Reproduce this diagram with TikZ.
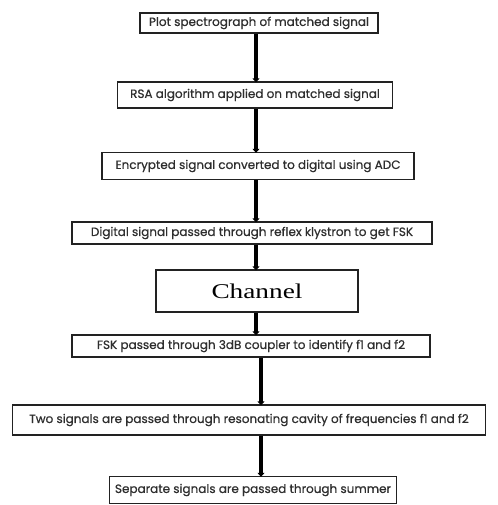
\documentclass[tikz,border=0pt]{standalone}
\usepackage{fontspec}
\setmainfont{Poppins}[FakeBold=0.6]
\newfontfamily\chfont{Liberation Serif}
\usetikzlibrary{arrows.meta}
\definecolor{boxtext}{HTML}{2E2E2E}
\definecolor{boxline}{HTML}{222222}
\tikzset{
  stepbox/.style={draw=boxline, line width=1.4pt, fill=white, text=boxtext,
    inner sep=0pt, font=\fontsize{12}{14}\selectfont, anchor=center},
  flow/.style={line width=3.4pt, draw=black,
    -{Triangle[width=7pt,length=4pt]}, shorten >=-1pt},
}
\begin{document}
\begin{tikzpicture}[x=1pt, y=-1pt]
\useasboundingbox (0,0) rectangle (497,505);

\node[stepbox, minimum width=238pt, minimum height=20pt] (b1) at (259,23)
  {Plot spectrograph of matched signal};
\node[stepbox, minimum width=275pt, minimum height=26pt] (b2) at (255,95)
  {RSA algorithm applied on matched signal};
\node[stepbox, minimum width=312pt, minimum height=27pt] (b3) at (258,166)
  {Encrypted signal converted to digital using ADC};
\node[stepbox, minimum width=360pt, minimum height=22pt] (b4) at (252,233)
  {Digital signal passed through reflex klystron to get FSK};
\node[stepbox, minimum width=202pt, minimum height=42pt, text=black,
      font=\chfont\fontsize{21}{24}\selectfont] (ch) at (257,291)
  {\scalebox{1.3}[1]{Channel}};
\node[stepbox, minimum width=358pt, minimum height=22pt] (b6) at (251,346)
  {FSK passed through 3dB coupler to identify f1 and f2};
\node[stepbox, minimum width=473pt, minimum height=30pt] (b7) at (249,420)
  {Two signals are passed through resonating cavity of frequencies f1 and f2};
\node[stepbox, minimum width=287pt, minimum height=27pt] (b8) at (253,490)
  {Separate signals are passed through summer};

% arrow columns
\coordinate (au) at (256,0);
\coordinate (al) at (261,0);

\draw[flow] (b1.south -| au) -- (b2.north -| au);
\draw[flow] (b2.south -| au) -- (b3.north -| au);
\draw[flow] (b3.south -| au) -- (b4.north -| au);
\draw[flow] (b4.south -| au) -- (ch.north -| au);
\draw[flow] (ch.south -| au) -- (b6.north -| au);
\draw[flow] (b6.south -| al) -- (b7.north -| al);
\draw[flow] (b7.south -| al) -- (b8.north -| al);
\end{tikzpicture}
\end{document}
